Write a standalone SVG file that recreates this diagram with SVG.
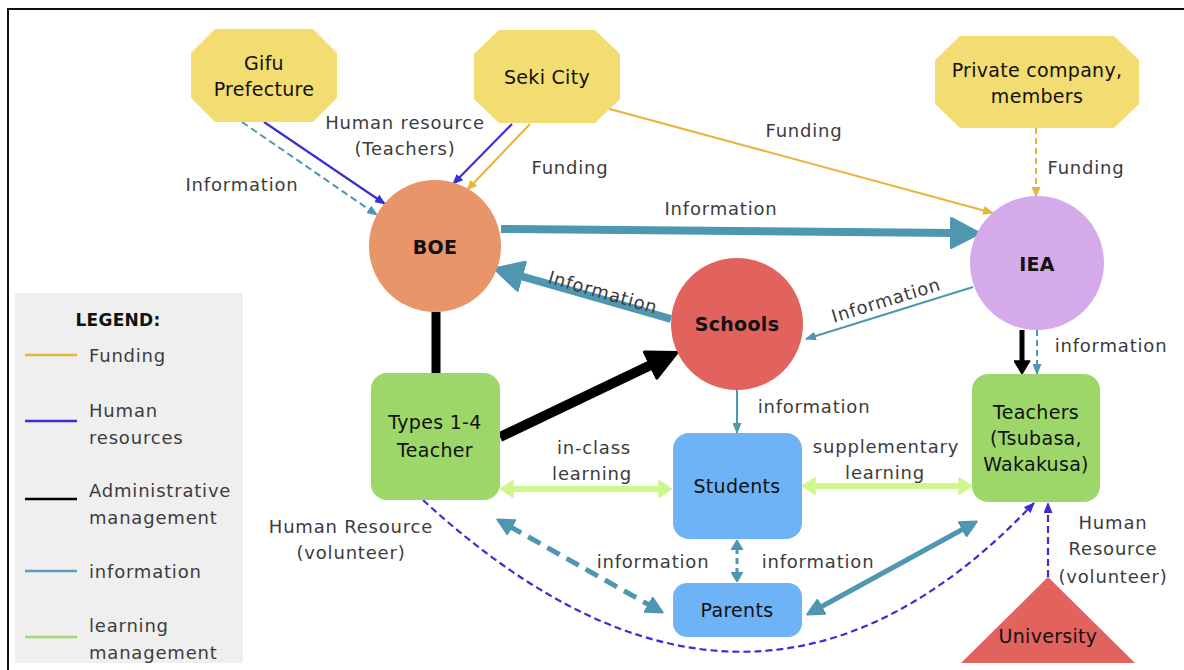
<svg xmlns="http://www.w3.org/2000/svg" width="1184" height="670" viewBox="0 0 1184 670">
<style>
text{font-family:"DejaVu Sans","Liberation Sans",sans-serif;font-size:18px;fill:#3c3c3c;text-anchor:middle;dominant-baseline:central;letter-spacing:0.8px}
.n{fill:#111;font-size:19px;letter-spacing:0.3px}
.b{font-weight:bold;fill:#111;letter-spacing:0.3px}
.oct{fill:#f3dc72}
.gr{fill:#9dd76a}
.bl{fill:#6db3f5}
.hr{stroke:#3a2fd0;stroke-width:2.2;fill:none}
.fu{stroke:#e9b43d;stroke-width:2;fill:none}
.in{stroke:#4f96b0;stroke-width:2;fill:none}
.lt{text-anchor:start}
</style>
<defs>
<marker id="aHR" viewBox="0 0 10 10" refX="9" refY="5" markerWidth="11" markerHeight="9" markerUnits="userSpaceOnUse" orient="auto" preserveAspectRatio="none"><path d="M0,0 L10,5 L0,10 z" fill="#3a2fd0"/></marker>
<marker id="aFU" viewBox="0 0 10 10" refX="9" refY="5" markerWidth="11" markerHeight="9" markerUnits="userSpaceOnUse" orient="auto" preserveAspectRatio="none"><path d="M0,0 L10,5 L0,10 z" fill="#e9b43d"/></marker>
<marker id="aIN" viewBox="0 0 10 10" refX="9" refY="5" markerWidth="11" markerHeight="9" markerUnits="userSpaceOnUse" orient="auto" preserveAspectRatio="none"><path d="M0,0 L10,5 L0,10 z" fill="#4f96b0"/></marker>
<marker id="aINs" viewBox="0 0 10 10" refX="2" refY="5" markerWidth="10" markerHeight="12" markerUnits="userSpaceOnUse" orient="auto-start-reverse" preserveAspectRatio="none"><path d="M0,0 L10,5 L0,10 z" fill="#4f96b0" stroke="#4f96b0" stroke-linejoin="round" stroke-width="1"/></marker>
<marker id="aINbig" viewBox="0 0 10 10" refX="2" refY="5" markerWidth="30" markerHeight="32" markerUnits="userSpaceOnUse" orient="auto" preserveAspectRatio="none"><path d="M0.5,0.5 L9.6,5 L0.5,9.5 z" fill="#4f96b0" stroke="#4f96b0" stroke-linejoin="round" stroke-width="1"/></marker>
<marker id="aINmed" viewBox="0 0 10 10" refX="2" refY="5" markerWidth="18" markerHeight="18" markerUnits="userSpaceOnUse" orient="auto-start-reverse" preserveAspectRatio="none"><path d="M0.5,0.5 L9.6,5 L0.5,9.5 z" fill="#4f96b0" stroke="#4f96b0" stroke-linejoin="round" stroke-width="1"/></marker>
<marker id="aBKbig" viewBox="0 0 10 10" refX="2" refY="5" markerWidth="32" markerHeight="32" markerUnits="userSpaceOnUse" orient="auto" preserveAspectRatio="none"><path d="M0.5,0.5 L9.6,5 L0.5,9.5 z" fill="#000" stroke="#000" stroke-linejoin="round" stroke-width="1"/></marker>
<marker id="aBK" viewBox="0 0 10 10" refX="2" refY="5" markerWidth="14" markerHeight="17" markerUnits="userSpaceOnUse" orient="auto" preserveAspectRatio="none"><path d="M0.5,0.5 L9.6,5 L0.5,9.5 z" fill="#000" stroke="#000" stroke-linejoin="round" stroke-width="1"/></marker>
<marker id="aLG" viewBox="0 0 10 10" refX="2" refY="5" markerWidth="14" markerHeight="18" markerUnits="userSpaceOnUse" orient="auto-start-reverse" preserveAspectRatio="none"><path d="M0.5,0.5 L9.6,5 L0.5,9.5 z" fill="#d0f78e" stroke="#d0f78e" stroke-linejoin="round" stroke-width="1"/></marker>
</defs>

<rect x="8" y="9" width="1190" height="680" fill="#fff" stroke="#111" stroke-width="2"/>

<g id="legend">
<rect x="15" y="293" width="228" height="370" fill="#efefef"/>
<text class="b" x="118" y="320" style="font-size:17px">LEGEND:</text>
<line x1="25" y1="355" x2="77" y2="355" stroke="#e9b43d" stroke-width="2.5"/>
<line x1="25" y1="421" x2="77" y2="421" stroke="#3a2fd0" stroke-width="2.5"/>
<line x1="25" y1="499" x2="77" y2="499" stroke="#000" stroke-width="2.5"/>
<line x1="25" y1="571" x2="77" y2="571" stroke="#5b9db8" stroke-width="2.5"/>
<line x1="25" y1="637" x2="77" y2="637" stroke="#9fd86e" stroke-width="2.5"/>
<text class="lt" x="89" y="355">Funding</text>
<text class="lt" x="89" y="410">Human</text>
<text class="lt" x="89" y="437">resources</text>
<text class="lt" x="89" y="490">Administrative</text>
<text class="lt" x="89" y="517">management</text>
<text class="lt" x="89" y="571">information</text>
<text class="lt" x="89" y="625">learning</text>
<text class="lt" x="89" y="652">management</text>
</g>

<g id="connectors">
<line class="in" x1="242" y1="122" x2="377" y2="215" stroke-dasharray="7 4" marker-end="url(#aIN)"/>
<line class="hr" x1="264" y1="122" x2="385" y2="204" marker-end="url(#aHR)"/>
<line class="hr" x1="512" y1="124" x2="453" y2="184" marker-end="url(#aHR)"/>
<line class="fu" x1="530" y1="124" x2="467" y2="190" marker-end="url(#aFU)"/>
<line class="fu" x1="606" y1="108" x2="993" y2="213" marker-end="url(#aFU)"/>
<line class="fu" x1="1036" y1="128" x2="1036" y2="197" stroke-dasharray="6 4" marker-end="url(#aFU)"/>
<line x1="501" y1="229" x2="956" y2="233" stroke="#4f96b0" stroke-width="8" marker-end="url(#aINbig)"/>
<line x1="671" y1="319" x2="517" y2="275" stroke="#4f96b0" stroke-width="8" marker-end="url(#aINbig)"/>
<line class="in" x1="973" y1="287" x2="806" y2="339" marker-end="url(#aIN)"/>
<line x1="436" y1="312" x2="436" y2="374" stroke="#000" stroke-width="9"/>
<line x1="500" y1="437" x2="655" y2="363" stroke="#000" stroke-width="10" marker-end="url(#aBKbig)"/>
<line x1="1022" y1="330" x2="1022" y2="363" stroke="#000" stroke-width="5" marker-end="url(#aBK)"/>
<line class="in" x1="1037" y1="330" x2="1037" y2="374" stroke-dasharray="6 4" marker-end="url(#aIN)"/>
<line class="in" x1="737" y1="390" x2="737" y2="433" marker-end="url(#aIN)"/>
<line x1="511" y1="489" x2="661" y2="489" stroke="#d0f78e" stroke-width="6" marker-start="url(#aLG)" marker-end="url(#aLG)"/>
<line x1="813" y1="486" x2="961" y2="486" stroke="#d0f78e" stroke-width="6" marker-start="url(#aLG)" marker-end="url(#aLG)"/>
<line x1="737" y1="548" x2="737" y2="574" stroke="#4f96b0" stroke-width="3" stroke-dasharray="6 4" marker-start="url(#aINs)" marker-end="url(#aINs)"/>
<line x1="509" y1="526" x2="651" y2="606" stroke="#4f96b0" stroke-width="5" stroke-dasharray="14 8" marker-start="url(#aINmed)" marker-end="url(#aINmed)"/>
<line x1="819" y1="608" x2="965" y2="528" stroke="#4f96b0" stroke-width="5" marker-start="url(#aINmed)" marker-end="url(#aINmed)"/>
<path class="hr" d="M423,500 Q751,802 1034,503" stroke-width="1.8" stroke-dasharray="7 4" marker-end="url(#aHR)"/>
<line class="hr" x1="1048" y1="577" x2="1048" y2="503" stroke-width="1.8" stroke-dasharray="7 4" marker-end="url(#aHR)"/>
</g>

<g id="labels">
<text x="242" y="184">Information</text>
<text x="405" y="122">Human resource</text>
<text x="405" y="148">(Teachers)</text>
<text x="570" y="167">Funding</text>
<text x="804" y="130">Funding</text>
<text x="1086" y="167">Funding</text>
<text x="721" y="208">Information</text>
<text x="603" y="292" transform="rotate(16 603 292)">Information</text>
<text x="886" y="300" transform="rotate(-17 886 300)">Information</text>
<text x="1111" y="345">information</text>
<text x="814" y="406">information</text>
<text x="594" y="447">in-class</text>
<text x="592" y="473">learning</text>
<text x="886" y="446">supplementary</text>
<text x="885" y="472">learning</text>
<text x="351" y="526">Human Resource</text>
<text x="351" y="552">(volunteer)</text>
<text x="653" y="561">information</text>
<text x="818" y="561">information</text>
<text x="1113" y="522">Human</text>
<text x="1113" y="548">Resource</text>
<text x="1113" y="576">(volunteer)</text>
</g>

<g id="gifu">
<polygon class="oct" points="215,29 313,29 337,53 337,98 313,122 215,122 191,98 191,53"/>
<text class="n" x="264" y="63">Gifu</text>
<text class="n" x="264" y="89">Prefecture</text>
</g>
<g id="seki">
<polygon class="oct" points="499,30 595,30 620,54 620,99 595,123 499,123 474,99 474,54"/>
<text class="n" x="547" y="77">Seki City</text>
</g>
<g id="private">
<polygon class="oct" points="960,36 1114,36 1139,60 1139,104 1114,128 960,128 935,104 935,60"/>
<text class="n" x="1037" y="70">Private company,</text>
<text class="n" x="1037" y="96">members</text>
</g>
<g id="boe">
<circle cx="435" cy="246" r="66" fill="#e8956a"/>
<text class="b" x="435" y="247" style="font-size:19px">BOE</text>
</g>
<g id="iea">
<circle cx="1037" cy="263" r="67" fill="#d5aaea"/>
<text class="b" x="1037" y="264" style="font-size:19px">IEA</text>
</g>
<g id="schools">
<circle cx="737" cy="324" r="66" fill="#e2635d"/>
<text class="b" x="737" y="324" style="font-size:19px">Schools</text>
</g>
<g id="types">
<rect class="gr" x="371" y="373" width="129" height="127" rx="16"/>
<text class="n" x="435" y="422">Types 1-4</text>
<text class="n" x="435" y="450">Teacher</text>
</g>
<g id="students">
<rect class="bl" x="673" y="433" width="129" height="106" rx="16"/>
<text class="n" x="737" y="486">Students</text>
</g>
<g id="parents">
<rect class="bl" x="673" y="583" width="129" height="54" rx="14"/>
<text class="n" x="737" y="610">Parents</text>
</g>
<g id="teachers">
<rect class="gr" x="972" y="374" width="128" height="128" rx="16"/>
<text class="n" x="1036" y="412">Teachers</text>
<text class="n" x="1036" y="438">(Tsubasa,</text>
<text class="n" x="1036" y="464">Wakakusa)</text>
</g>
<g id="university">
<polygon points="1048,577 1135,663 961,663" fill="#e2635d"/>
<text class="n" x="1048" y="636">University</text>
</g>
</svg>
